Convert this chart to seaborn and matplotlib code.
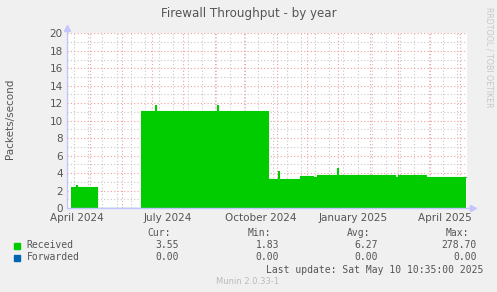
import numpy as np
import pandas as pd
import matplotlib
matplotlib.use("Agg")
import matplotlib.pyplot as plt
import matplotlib.dates as mdates
import seaborn as sns

# ---------------- data ----------------
title = "Firewall Throughput - by year"
ylabel = "Packets/second"
seg_edges = ['2024-04-12', '2024-04-17', '2024-04-18', '2024-05-08', '2024-06-20',
             '2024-07-04', '2024-07-05', '2024-09-03', '2024-09-04', '2024-10-23',
             '2024-11-02', '2024-11-03', '2024-11-24', '2024-12-07', '2024-12-11',
             '2024-12-31', '2025-01-01', '2025-02-26', '2025-03-01', '2025-03-29',
             '2025-05-07']
received = [2.35, 2.6, 2.35, 0.0, 11.1, 11.8, 11.1, 11.8, 11.1, 3.35,
            4.2, 3.35, 3.7, 3.6, 3.8, 4.6, 3.8, 3.6, 3.8, 3.5]
forwarded = [0.0] * len(received)
x_start, x_end = '2024-04-08', '2025-05-08'
tick_label_dates = ['2024-04-18', '2024-07-16', '2024-10-16', '2025-01-16', '2025-04-16']
tick_labels = ['April 2024', 'July 2024', 'October 2024', 'January 2025', 'April 2025']
y_ticks = list(range(0, 21, 2))
series_names = ['Received', 'Forwarded']
series_colors = ['#00CC00', '#0066B3']
stat_headers = ['Cur:', 'Min:', 'Avg:', 'Max:']
stats_received = ['3.55', '1.83', '6.27', '278.70']
stats_forwarded = ['0.00', '0.00', '0.00', '0.00']
last_update = 'Last update: Sat May 10 10:35:00 2025'
munin_version = 'Munin 2.0.33-1'
watermark = 'RRDTOOL / TOBI OETIKER'

# ---------------- figure ----------------
sns.set_theme(style="white")
plt.rcParams['font.family'] = ['DejaVu Sans']
BG = '#F0F0F0'
W, H = 497, 292
fig = plt.figure(figsize=(W / 100, H / 100), dpi=100, facecolor=BG)
L, R, T, B = 67, 467, 33.3, 208
ax = fig.add_axes([L / W, 1 - B / H, (R - L) / W, (B - T) / H])
ax.set_facecolor('white')

edges = pd.to_datetime(seg_edges)
df = pd.DataFrame({'date': edges, 'received': received + [received[-1]],
                   'forwarded': forwarded + [forwarded[-1]]})

x0 = mdates.date2num(pd.Timestamp(x_start))
x1 = mdates.date2num(pd.Timestamp(x_end))
ax.set_xlim(x0, x1)
ax.set_ylim(0, 20)

# grid
GRAY = '#C8C8C8'
RED = '#F0A0A0'
for v in range(1, 20, 2):
    ax.axhline(v, color=GRAY, lw=0.8, ls=(0, (1, 2)), zorder=0)
for v in range(2, 21, 2):
    ax.axhline(v, color=RED, lw=0.8, ls=(0, (1, 2)), zorder=0.5)
minor = pd.date_range('2024-04-15', x_end, freq='14D')
for d in minor:
    ax.axvline(mdates.date2num(d), color=GRAY, lw=0.8, ls=(0, (1, 2)), zorder=0)
months = pd.date_range('2024-05-01', x_end, freq='MS')
for d in months:
    ax.axvline(mdates.date2num(d), color=RED, lw=0.8, ls=(0, (1, 2)), zorder=0.5)

# data
ax.fill_between(mdates.date2num(df['date']), df['received'], step='post',
                color=series_colors[0], lw=0, zorder=2)
sns.lineplot(x=mdates.date2num(df['date']), y=df['received'], ax=ax,
             drawstyle='steps-post', color=series_colors[0], lw=0.8, zorder=2.1)
sns.lineplot(x=mdates.date2num(df['date']), y=df['forwarded'], ax=ax,
             drawstyle='steps-post', color=series_colors[1], lw=0.8, zorder=2.2)

# axes
for s in ax.spines.values():
    s.set_visible(False)
AX = '#C4C4FF'
ax.plot([0, 0], [0, 1.02], transform=ax.transAxes, color=AX, lw=1, clip_on=False, zorder=5)
ax.plot([0, 1.012], [0, 0], transform=ax.transAxes, color=AX, lw=1, clip_on=False, zorder=5)
ax.plot([0], [1.03], transform=ax.transAxes, marker='^', ms=4, color=AX, clip_on=False, zorder=5)
ax.plot([1.015], [0], transform=ax.transAxes, marker='>', ms=4, color=AX, clip_on=False, zorder=5)

ax.set_yticks(y_ticks)
ax.set_yticklabels([str(v) for v in y_ticks])
ax.set_xticks(mdates.date2num(pd.to_datetime(tick_label_dates)))
ax.set_xticklabels(tick_labels)
ax.tick_params(axis='both', length=0, pad=3, labelsize=7.5, colors='#555555')
ax.tick_params(axis='x', pad=3.5)
ax.set_xlabel('')
ax.set_ylabel('')

TXT = '#555555'
fig.text(W / 2 / W, 1 - 14 / H, title, ha='center', va='center', fontsize=8.6, color=TXT)
fig.text(10 / W, 1 - 119 / H, ylabel, rotation=90, ha='center', va='center',
         fontsize=7.5, color=TXT)
fig.text(489 / W, 1 - 57 / H, watermark, rotation=270, ha='center', va='center',
         fontsize=5.7, color='#C8C8C8')

mono = 'DejaVu Sans Mono'
hdr_x = [171, 271, 370, 469]
val_x = [179, 279, 378, 477]
for hx, h in zip(hdr_x, stat_headers):
    fig.text(hx / W, 1 - 233.5 / H, h, ha='right', va='center', family=mono, fontsize=7, color=TXT)
rows = [(245.5, stats_received), (257.5, stats_forwarded)]
for (yy, vals), name, col in zip(rows, series_names, series_colors):
    fig.patches.append(plt.Rectangle((14 / W, 1 - (yy + 3) / H), 6 / W, 6 / H,
                                     transform=fig.transFigure, color=col, figure=fig))
    fig.text(26.5 / W, 1 - yy / H, name, ha='left', va='center', family=mono, fontsize=7, color=TXT)
    for vx, v in zip(val_x, vals):
        fig.text(vx / W, 1 - yy / H, v, ha='right', va='center', family=mono, fontsize=7, color=TXT)
fig.text(483 / W, 1 - 270 / H, last_update, ha='right', va='center', family=mono,
         fontsize=7, color=TXT)
fig.text(248 / W, 1 - 281.5 / H, munin_version, ha='center', va='center',
         fontsize=6, color='#BBBBBB')

fig.savefig('out.png', dpi=100, facecolor=BG)
